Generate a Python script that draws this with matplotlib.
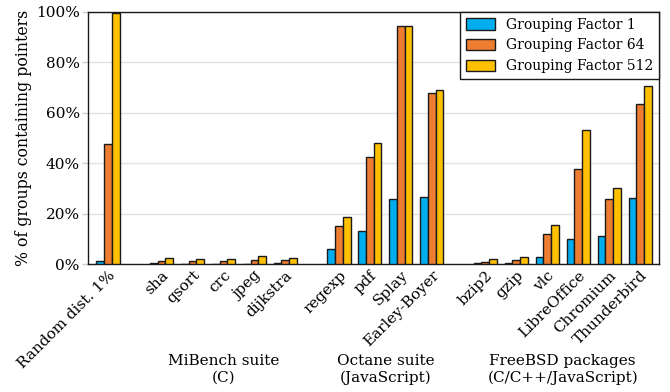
import matplotlib
matplotlib.use("Agg")
import matplotlib.pyplot as plt
import matplotlib.transforms as mtransforms
from matplotlib.patches import Patch

plt.rcParams['font.family'] = ['DejaVu Serif']

categories = ["Random dist. 1%", "sha", "qsort", "crc", "jpeg", "dijkstra",
              "regexp", "pdf", "Splay", "Earley-Boyer",
              "bzip2", "gzip", "vlc", "LibreOffice", "Chromium", "Thunderbird"]
group_sizes = [1, 5, 4, 6]
group_names = ["MiBench suite\n(C)", "Octane suite\n(JavaScript)",
               "FreeBSD packages\n(C/C++/JavaScript)"]
series_names = ["Grouping Factor 1", "Grouping Factor 64", "Grouping Factor 512"]
gf1 = [1.2, 0.2, 0.1, 0.1, 0.1, 0.2, 5.8, 13.2, 25.9, 26.6, 0.2, 0.2, 2.8, 10.0, 11.2, 26.2]
gf64 = [47.6, 1.3, 1.3, 1.3, 1.6, 1.5, 15.1, 42.6, 94.6, 67.7, 0.9, 1.5, 11.9, 37.8, 25.8, 63.4]
gf512 = [99.7, 2.4, 2.1, 2.1, 3.0, 2.5, 18.7, 48.1, 94.6, 68.9, 2.0, 2.6, 15.3, 53.0, 30.2, 70.8]
colors = ["#00AEEF", "#ED7D31", "#FFC000"]

gap = 0.73
pos = []
x = 0.0
for gi, n in enumerate(group_sizes):
    if gi > 0:
        x += gap
    for k in range(n):
        pos.append(x)
        x += 1

fig = plt.figure(figsize=(6.7, 3.92), dpi=100)
ax = fig.add_axes([88/670, 1-264/392, 571/670, 252/392])

w = 0.25
for si, (vals, c) in enumerate(zip([gf1, gf64, gf512], colors)):
    xs = [p + (si - 1) * w for p in pos]
    ax.bar(xs, vals, width=w, color=c, edgecolor="#1a1a1a", linewidth=1.0, zorder=3)

ax.set_xlim(-0.645, pos[-1] + 0.61)
ax.set_ylim(0, 100)
ax.set_yticks([0, 20, 40, 60, 80, 100])
ax.set_yticklabels(["0%", "20%", "40%", "60%", "80%", "100%"], fontsize=11)
ax.yaxis.grid(True, color="#e3e3e3", linewidth=1.0, zorder=0)
ax.set_axisbelow(True)
ax.tick_params(axis='y', length=4, width=1.0, color="#d0d0d0", pad=2)
ax.tick_params(axis='x', length=0, pad=3)
ax.set_xticks(pos)
ax.set_xticklabels(categories, rotation=45, ha='right', rotation_mode='anchor', fontsize=11)
ax.set_ylabel("% of groups containing pointers", fontsize=11.3, labelpad=3)
for s in ax.spines.values():
    s.set_linewidth(1.0)
    s.set_color("#1a1a1a")

trans = mtransforms.blended_transform_factory(ax.transData, fig.transFigure)
start = group_sizes[0]
for gname, n in zip(group_names, group_sizes[1:]):
    xc = (pos[start] + pos[start + n - 1]) / 2
    ax.text(xc, 1 - 369.5/392, gname, transform=trans, ha='center', va='center',
            fontsize=11, linespacing=1.3)
    start += n

handles = [Patch(facecolor=c, edgecolor="#1a1a1a", linewidth=1.0, label=l)
           for c, l in zip(colors, series_names)]
leg = ax.legend(handles=handles, loc='upper right', fontsize=10, fancybox=False,
                framealpha=1, edgecolor="#1a1a1a", borderaxespad=0,
                handlelength=2.1, handleheight=0.9, borderpad=0.4, labelspacing=0.5)
leg.get_frame().set_linewidth(1.0)

fig.savefig("out.png", dpi=100)
